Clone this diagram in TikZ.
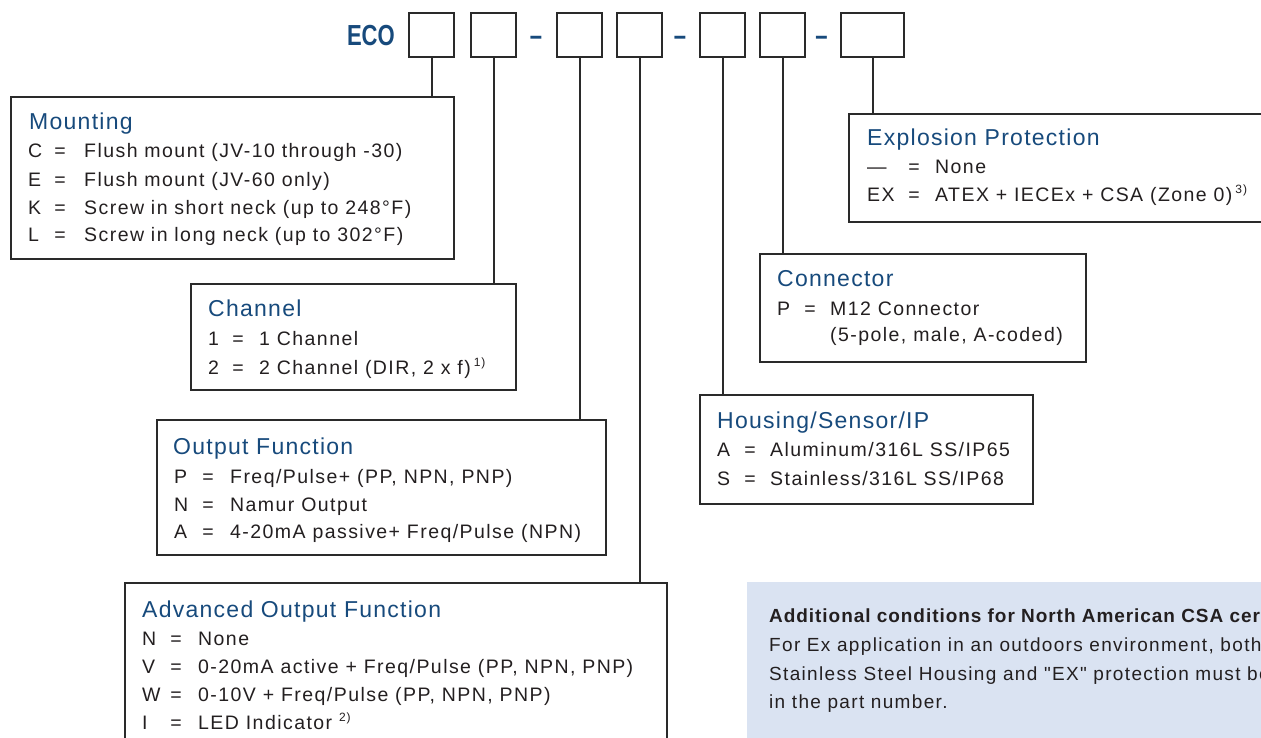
\documentclass[tikz,border=0pt]{standalone}
\usepackage{fontspec}
\setmainfont{Liberation Sans}[LetterSpace=7.4,Ligatures=TeXOff]
\newfontfamily\titlefont{Liberation Sans}[LetterSpace=5.5]
\newfontfamily\notefont{Liberation Sans}[LetterSpace=5,Ligatures=TeXOff]
\newfontfamily\notebody{Liberation Sans}[LetterSpace=7,Ligatures=TeXOff]
\newfontfamily\ecofont{Liberation Sans}
\definecolor{titleblue}{HTML}{174A7C}
\definecolor{ink}{HTML}{2A2A2A}
\definecolor{textgray}{HTML}{231F20}
\definecolor{notefill}{HTML}{DAE3F2}
\newcommand\optrow[7]{%
  \node[body,anchor=base west] (#1-l) at (#4,#2) {#3};
  \node[body,anchor=base] (#1-e) at (#5,#2) {=};
  \node[body,anchor=base west] (#1-t) at (#6,#2) {#7};}
\newcommand\supnote[1]{\raisebox{8pt}{\fontsize{12}{12}\selectfont #1}}
\begin{document}
\begin{tikzpicture}[x=1pt,y=-1pt,
  codebox/.style={draw=ink,line width=2pt,minimum height=44pt,inner sep=0pt},
  descbox/.style={draw=ink,line width=2pt,inner sep=0pt,anchor=north west},
  conn/.style={draw=ink,line width=2pt},
  eco/.style={font=\ecofont\bfseries\fontsize{29}{29}\selectfont,text=titleblue,inner sep=0pt},
  body/.style={font=\fontsize{19.5}{22}\selectfont,text=textgray,inner sep=0pt},
  ttl/.style={font=\titlefont\fontsize{23}{26}\selectfont,text=titleblue,inner sep=0pt,anchor=base west},
  notehead/.style={font=\notefont\bfseries\fontsize{19}{22}\selectfont,text=textgray,inner sep=0pt,anchor=base west},
  notetext/.style={font=\notebody\fontsize{19}{22}\selectfont,text=textgray,inner sep=0pt,anchor=base west}]
\useasboundingbox (0,0) rectangle (1261,738);
\clip (0,0) rectangle (1261,738);
\fill[white] (0,0) rectangle (1261,738);

% order code
\node[eco,anchor=base east] (eco) at (395,45.7) {\scalebox{0.76}[1]{ECO}};
\node[codebox,minimum width=45pt] (c1) at (431.5,35.3) {};
\node[codebox,minimum width=45pt] (c2) at (493.5,35.3) {};
\node[eco,anchor=base] (d1) at (536,45.7) {\scalebox{0.76}[1]{–}};
\node[codebox,minimum width=45pt] (c3) at (579.5,35.3) {};
\node[codebox,minimum width=45pt] (c4) at (639.5,35.3) {};
\node[eco,anchor=base] (d2) at (680,45.7) {\scalebox{0.76}[1]{–}};
\node[codebox,minimum width=45pt] (c5) at (722.5,35.3) {};
\node[codebox,minimum width=45pt] (c6) at (782.5,35.3) {};
\node[eco,anchor=base] (d3) at (821.5,45.7) {\scalebox{0.76}[1]{–}};
\node[codebox,minimum width=63pt] (c7) at (872.5,35.3) {};

% description boxes
\node[descbox,minimum width=443pt,minimum height=162pt] (mount) at (10,96) {};
\node[descbox,minimum width=325pt,minimum height=106pt] (chan) at (190,283) {};
\node[descbox,minimum width=449pt,minimum height=135pt] (out) at (156,419) {};
\node[descbox,minimum width=542pt,minimum height=175pt] (adv) at (124,582) {};
\node[descbox,minimum width=333pt,minimum height=109pt] (hous) at (699,394) {};
\node[descbox,minimum width=326pt,minimum height=108pt] (connb) at (759,253) {};
\node[descbox,minimum width=430pt,minimum height=108pt] (expl) at (848,113) {};
\node[fill=notefill,inner sep=0pt,anchor=north west,minimum width=530pt,minimum height=175pt] (notebox) at (747,582) {};

% connectors
\draw[conn] (c1.south) -- (c1.south |- mount.north);
\draw[conn] (c2.south) -- (c2.south |- chan.north);
\draw[conn] (c3.south) -- (c3.south |- out.north);
\draw[conn] (c4.south) -- (c4.south |- adv.north);
\draw[conn] (c5.south) -- (c5.south |- hous.north);
\draw[conn] (c6.south) -- (c6.south |- connb.north);
\draw[conn] (c7.south) -- (c7.south |- expl.north);

% Mounting
\node[ttl] (mount-title) at (29,130) {Mounting};
\optrow{m1}{158}{C}{28}{60}{84}{Flush mount (JV-10 through -30)}
\optrow{m2}{186.5}{E}{28}{60}{84}{Flush mount (JV-60 only)}
\optrow{m3}{214.5}{K}{28}{60}{84}{Screw in short neck (up to 248°F)}
\optrow{m4}{242}{L}{28}{60}{84}{Screw in long neck (up to 302°F)}

% Channel
\node[ttl] (chan-title) at (208,316) {Channel};
\optrow{ch1}{345}{1}{208}{238}{259}{1 Channel}
\optrow{ch2}{374}{2}{208}{238}{259}{2 Channel (DIR, 2 x f)\hspace{3pt}\supnote{1)}}

% Output Function
\node[ttl] (out-title) at (173,454) {Output Function};
\optrow{o1}{483}{P}{174}{208}{230}{Freq/Pulse+ (PP, NPN, PNP)}
\optrow{o2}{511}{N}{174}{208}{230}{Namur Output}
\optrow{o3}{538.5}{A}{174}{208}{230}{4-20mA passive+ Freq/Pulse (NPN)}

% Advanced Output Function
\node[ttl] (adv-title) at (142,617) {Advanced Output Function};
\optrow{a1}{645}{N}{142}{176}{198}{None}
\optrow{a2}{673}{V}{142}{176}{198}{0-20mA active + Freq/Pulse (PP, NPN, PNP)}
\optrow{a3}{701}{W}{142}{176}{198}{0-10V + Freq/Pulse (PP, NPN, PNP)}
\optrow{a4}{729}{I}{142}{176}{198}{LED Indicator \supnote{2)}}

% Housing
\node[ttl] (hous-title) at (717,428.3) {Housing/Sensor/IP};
\optrow{h1}{456.7}{A}{717}{750}{770}{Aluminum/316L SS/IP65}
\optrow{h2}{485}{S}{717}{750}{770}{Stainless/316L SS/IP68}

% Connector
\node[ttl] (conn-title) at (777,286.7) {Connector};
\optrow{k1}{315}{P}{777}{810}{830}{M12 Connector}
\node[body,anchor=base west] (k2-t) at (830,341.7) {(5-pole, male, A-coded)};

% Explosion protection
\node[ttl] (expl-title) at (867,146) {Explosion Protection};
\optrow{e1}{174}{\textemdash}{867}{914}{935}{None}
\optrow{e2}{202}{EX}{867}{914}{935}{ATEX + IECEx + CSA (Zone 0)\hspace{3pt}\supnote{3)}}

% Note
\node[notehead] (note1) at (769,622) {Additional conditions for North American CSA certification:};
\node[notetext] (note2) at (769,651) {For Ex application in an outdoors environment, both};
\node[notetext] (note3) at (769,680) {Stainless Steel Housing and "EX" protection must be selected};
\node[notetext] (note4) at (769,708.5) {in the part number.};
\end{tikzpicture}
\end{document}
